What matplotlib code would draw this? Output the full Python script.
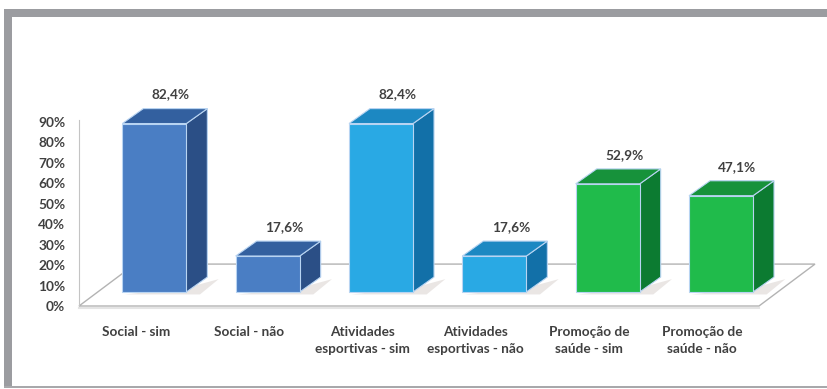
import matplotlib.pyplot as plt
from matplotlib.patches import Polygon, Rectangle

# Dados do gráfico
categorias = ["Social - sim", "Social - não", "Atividades\nesportivas - sim",
              "Atividades\nesportivas - não", "Promoção de\nsaúde - sim",
              "Promoção de\nsaúde - não"]
valores = [82.4, 17.6, 82.4, 17.6, 52.9, 47.1]
rotulos = ["82,4%", "17,6%", "82,4%", "17,6%", "52,9%", "47,1%"]
yticks = [0, 10, 20, 30, 40, 50, 60, 70, 80, 90]

# cores (frente, topo, lateral) por grupo
cores = [
    ("#4a7ec4", "#33609f", "#2b4f86"),
    ("#4a7ec4", "#33609f", "#2b4f86"),
    ("#29a9e4", "#1c88c2", "#1270a8"),
    ("#29a9e4", "#1c88c2", "#1270a8"),
    ("#20bb4b", "#17923b", "#0c7b31"),
    ("#20bb4b", "#17923b", "#0c7b31"),
]

# geometria do "3D" em unidades dos eixos
larg = 0.565             # largura da face frontal
desl_x, desl_y = 0.165, 6.85   # posição da face frontal dentro do piso
prof_x, prof_y = 0.185, 7.3    # profundidade da barra
piso_x, piso_y = 0.494, 20.5   # profundidade do piso

plt.rcParams['font.family'] = ['Lato', 'DejaVu Sans']
cor_texto = "#404040"
fs = 9.8

fig = plt.figure(figsize=(8.27, 3.89), dpi=100)
fig.patch.set_facecolor("white")

# moldura cinza
cinza = "#9b9ca0"
fig.patches.append(Rectangle((4/827, 1 - 16.5/389), 1, 7.5/389, transform=fig.transFigure,
                             facecolor=cinza, edgecolor="none"))
fig.patches.append(Rectangle((4/827, 1 - 388/389), 8/827, 379/389, transform=fig.transFigure,
                             facecolor=cinza, edgecolor="none"))
fig.patches.append(Rectangle((4/827, 1 - 388/389), 1, 1.8/389, transform=fig.transFigure,
                             facecolor="#a8a8ab", edgecolor="none"))

ax = fig.add_axes([79/827, 83/389, 680/827, 184/389])
ax.set_xlim(-0.5, 5.5)
ax.set_ylim(0, 90)
ax.patch.set_alpha(0)

for s in ["top", "right", "bottom"]:
    ax.spines[s].set_visible(False)
ax.spines["left"].set_color("#c4c4c4")
ax.spines["left"].set_bounds(0, 91)
ax.set_xticks([])
ax.set_yticks(yticks)
ax.set_yticklabels([f"{t}%" for t in yticks], fontsize=fs, fontweight="bold", color=cor_texto)
ax.tick_params(axis="y", length=0, pad=10)

# piso
piso = Polygon([(-0.5, 0), (5.5, 0), (5.5 + piso_x, piso_y), (-0.5 + piso_x, piso_y)],
               closed=True, facecolor="white", edgecolor="#b3b3b3", lw=1.0,
               clip_on=False, zorder=1)
ax.add_patch(piso)
ax.plot([-0.5, 5.5], [-0.8, -0.8], color="#e4e4e4", lw=1.5, clip_on=False, zorder=0.9)

for i, (v, rot, cat, (cf, ct, cl)) in enumerate(zip(valores, rotulos, categorias, cores)):
    x0 = i + desl_x - larg / 2
    x1 = x0 + larg
    y0 = desl_y
    y1 = desl_y + v

    # sombra no piso
    sombra = Polygon([(x0 + 0.02, y0 - 1.2), (x1 + 0.12, y0 - 1.2),
                      (x1 + prof_x + 0.1, y0 + prof_y - 1), (x1, y0 + 2)],
                     closed=True, facecolor="#dcd6d3", edgecolor="none",
                     alpha=0.6, clip_on=False, zorder=2)
    ax.add_patch(sombra)

    frente = Polygon([(x0, y0), (x1, y0), (x1, y1), (x0, y1)], closed=True,
                     facecolor=cf, edgecolor="#b8d4f2", lw=0.8, clip_on=False, zorder=4)
    topo = Polygon([(x0, y1), (x1, y1), (x1 + prof_x, y1 + prof_y), (x0 + prof_x, y1 + prof_y)],
                   closed=True, facecolor=ct, edgecolor="#b8d4f2", lw=0.8, clip_on=False, zorder=3)
    lado = Polygon([(x1, y0), (x1 + prof_x, y0 + prof_y), (x1 + prof_x, y1 + prof_y), (x1, y1)],
                   closed=True, facecolor=cl, edgecolor="#b8d4f2", lw=0.8, clip_on=False, zorder=3)
    for p in (lado, topo, frente):
        ax.add_patch(p)

    ax.text(i + 0.31, y1 + 14.2, rot, ha="center", va="center", fontsize=fs,
            fontweight="bold", color=cor_texto, clip_on=False)
    ax.text(i, -9.8, cat, ha="center", va="top", fontsize=fs, fontweight="bold",
            color=cor_texto, linespacing=1.5, clip_on=False)

fig.savefig("out.png", dpi=100)
